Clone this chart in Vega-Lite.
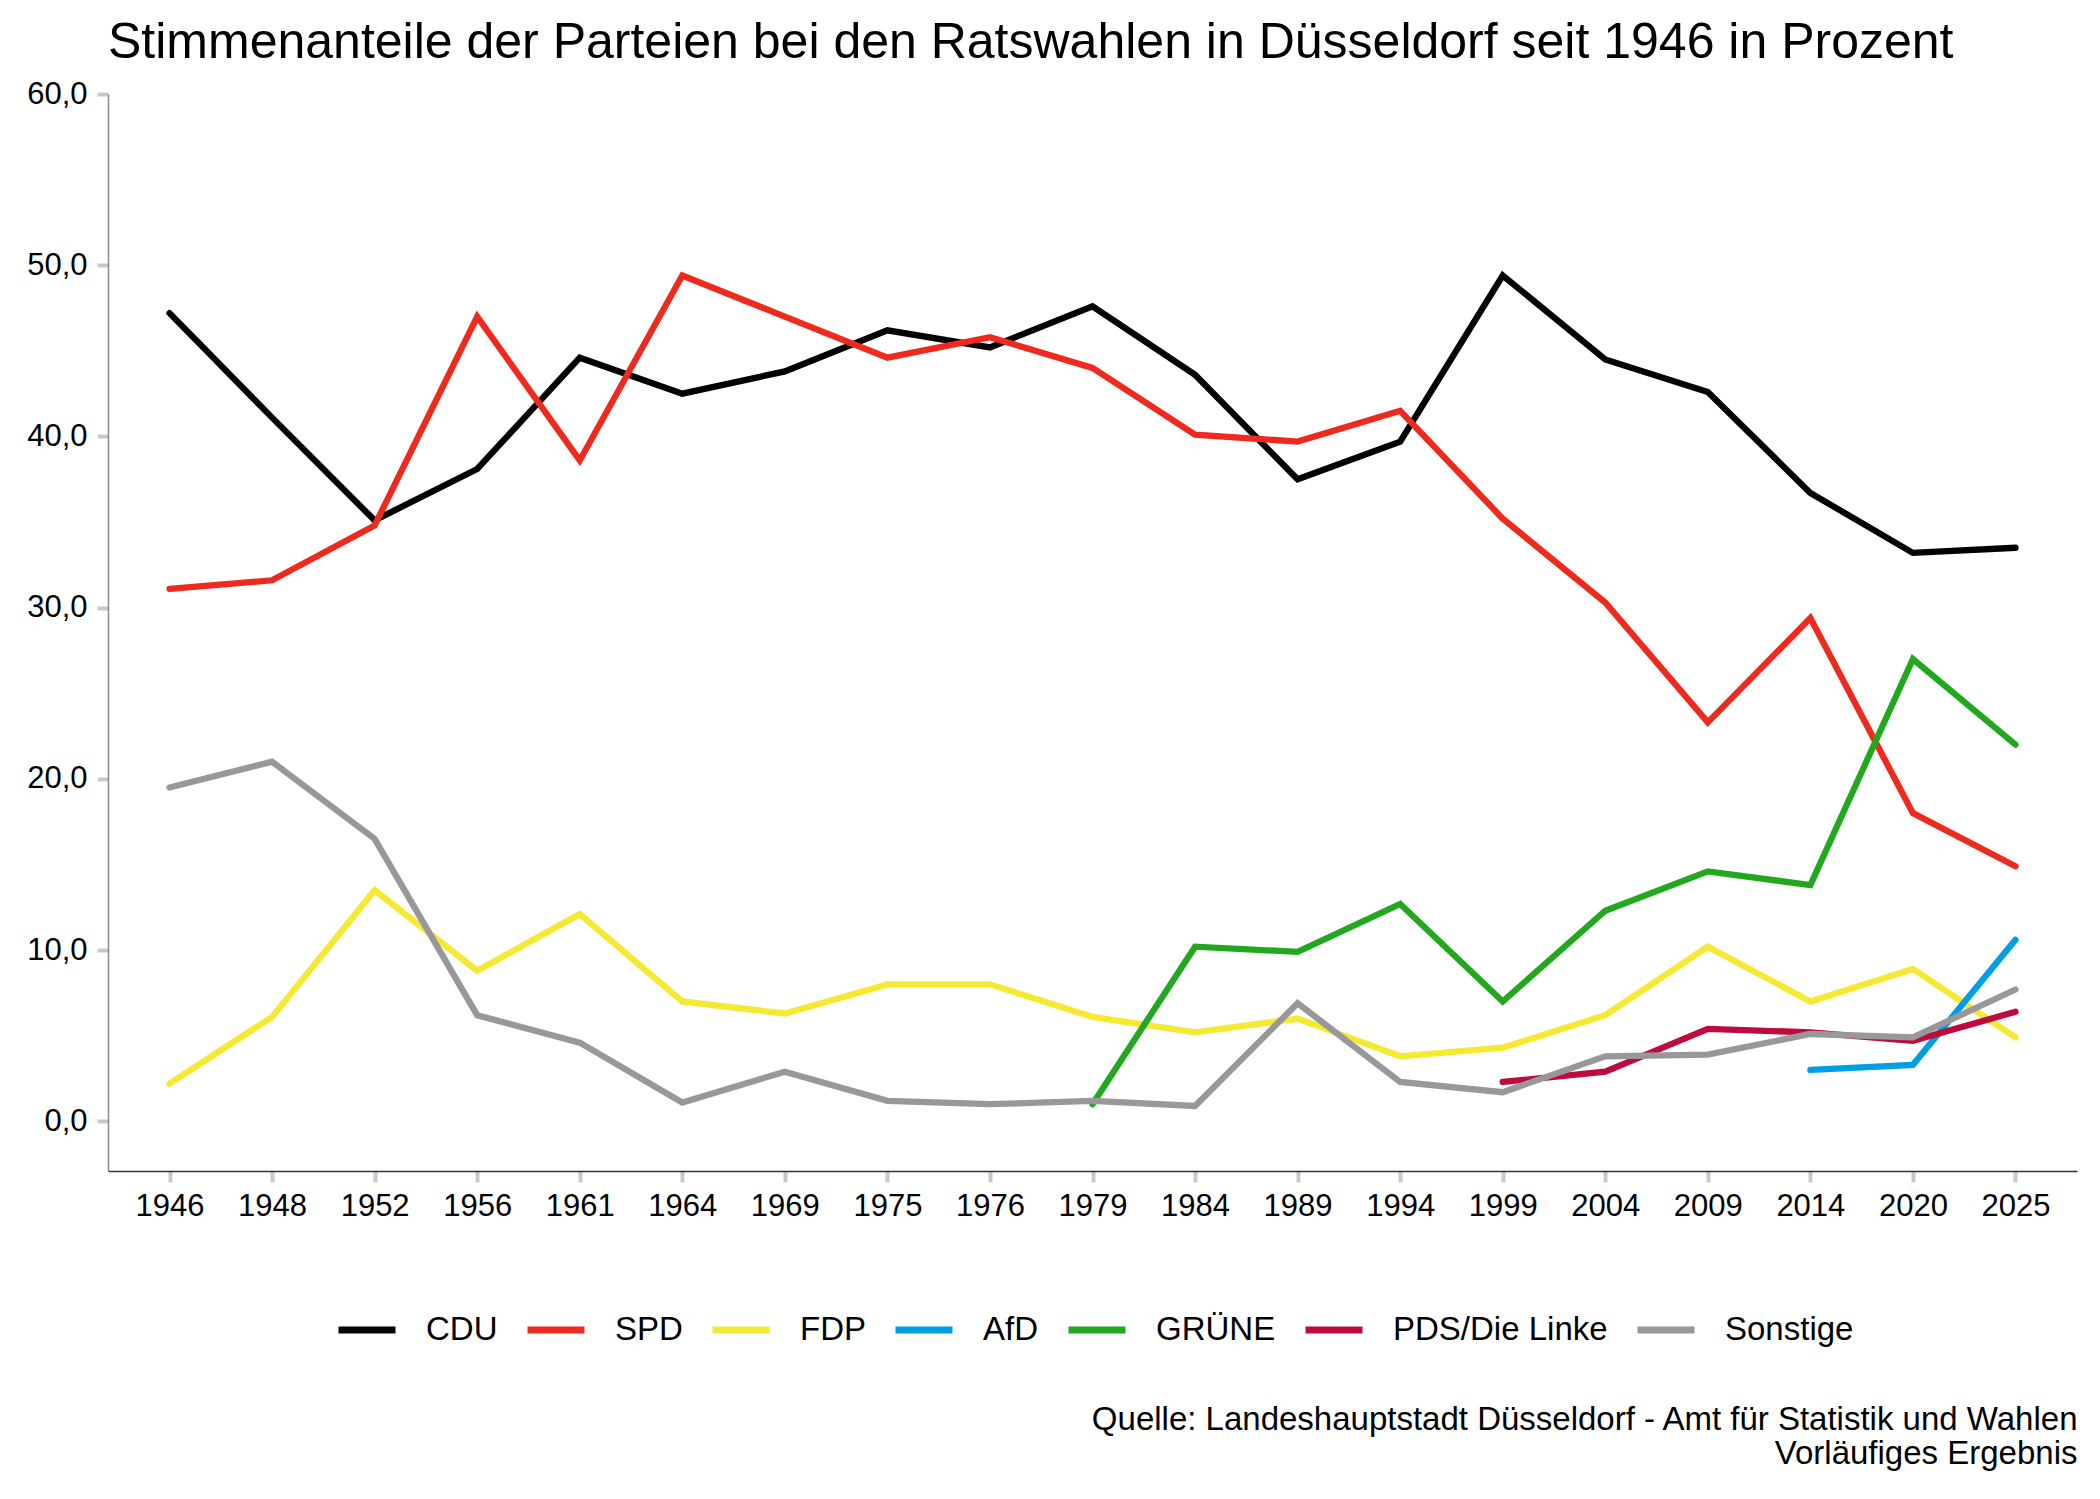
{
  "$schema": "https://vega.github.io/schema/vega-lite/v6.json",
  "autosize": {"type": "none"},
  "padding": {"left": 108, "top": 94, "right": 23, "bottom": 328},
  "width": 1969,
  "height": 1077,
  "background": "white",
  "title": {
    "text": "Stimmenanteile der Parteien bei den Ratswahlen in Düsseldorf seit 1946 in Prozent",
    "anchor": "start",
    "frame": "group",
    "font": "Liberation Sans",
    "fontSize": 50,
    "fontWeight": "normal",
    "color": "black",
    "offset": 10
  },
  "data": {
    "values": [
      {"Jahr": "1946", "Partei": "CDU", "Wert": 47.2},
      {"Jahr": "1948", "Partei": "CDU", "Wert": 41.1},
      {"Jahr": "1952", "Partei": "CDU", "Wert": 35.1},
      {"Jahr": "1956", "Partei": "CDU", "Wert": 38.1},
      {"Jahr": "1961", "Partei": "CDU", "Wert": 44.6},
      {"Jahr": "1964", "Partei": "CDU", "Wert": 42.5},
      {"Jahr": "1969", "Partei": "CDU", "Wert": 43.8},
      {"Jahr": "1975", "Partei": "CDU", "Wert": 46.2},
      {"Jahr": "1976", "Partei": "CDU", "Wert": 45.2},
      {"Jahr": "1979", "Partei": "CDU", "Wert": 47.6},
      {"Jahr": "1984", "Partei": "CDU", "Wert": 43.6},
      {"Jahr": "1989", "Partei": "CDU", "Wert": 37.5},
      {"Jahr": "1994", "Partei": "CDU", "Wert": 39.7},
      {"Jahr": "1999", "Partei": "CDU", "Wert": 49.4},
      {"Jahr": "2004", "Partei": "CDU", "Wert": 44.5},
      {"Jahr": "2009", "Partei": "CDU", "Wert": 42.6},
      {"Jahr": "2014", "Partei": "CDU", "Wert": 36.7},
      {"Jahr": "2020", "Partei": "CDU", "Wert": 33.2},
      {"Jahr": "2025", "Partei": "CDU", "Wert": 33.5},
      {"Jahr": "1946", "Partei": "SPD", "Wert": 31.1},
      {"Jahr": "1948", "Partei": "SPD", "Wert": 31.6},
      {"Jahr": "1952", "Partei": "SPD", "Wert": 34.8},
      {"Jahr": "1956", "Partei": "SPD", "Wert": 47.0},
      {"Jahr": "1961", "Partei": "SPD", "Wert": 38.6},
      {"Jahr": "1964", "Partei": "SPD", "Wert": 49.4},
      {"Jahr": "1969", "Partei": "SPD", "Wert": 47.0},
      {"Jahr": "1975", "Partei": "SPD", "Wert": 44.6},
      {"Jahr": "1976", "Partei": "SPD", "Wert": 45.8},
      {"Jahr": "1979", "Partei": "SPD", "Wert": 44.0},
      {"Jahr": "1984", "Partei": "SPD", "Wert": 40.1},
      {"Jahr": "1989", "Partei": "SPD", "Wert": 39.7},
      {"Jahr": "1994", "Partei": "SPD", "Wert": 41.5},
      {"Jahr": "1999", "Partei": "SPD", "Wert": 35.2},
      {"Jahr": "2004", "Partei": "SPD", "Wert": 30.3},
      {"Jahr": "2009", "Partei": "SPD", "Wert": 23.3},
      {"Jahr": "2014", "Partei": "SPD", "Wert": 29.4},
      {"Jahr": "2020", "Partei": "SPD", "Wert": 18.0},
      {"Jahr": "2025", "Partei": "SPD", "Wert": 14.9},
      {"Jahr": "1946", "Partei": "FDP", "Wert": 2.2},
      {"Jahr": "1948", "Partei": "FDP", "Wert": 6.1},
      {"Jahr": "1952", "Partei": "FDP", "Wert": 13.5},
      {"Jahr": "1956", "Partei": "FDP", "Wert": 8.8},
      {"Jahr": "1961", "Partei": "FDP", "Wert": 12.1},
      {"Jahr": "1964", "Partei": "FDP", "Wert": 7.0},
      {"Jahr": "1969", "Partei": "FDP", "Wert": 6.3},
      {"Jahr": "1975", "Partei": "FDP", "Wert": 8.0},
      {"Jahr": "1976", "Partei": "FDP", "Wert": 8.0},
      {"Jahr": "1979", "Partei": "FDP", "Wert": 6.1},
      {"Jahr": "1984", "Partei": "FDP", "Wert": 5.2},
      {"Jahr": "1989", "Partei": "FDP", "Wert": 6.0},
      {"Jahr": "1994", "Partei": "FDP", "Wert": 3.8},
      {"Jahr": "1999", "Partei": "FDP", "Wert": 4.3},
      {"Jahr": "2004", "Partei": "FDP", "Wert": 6.2},
      {"Jahr": "2009", "Partei": "FDP", "Wert": 10.2},
      {"Jahr": "2014", "Partei": "FDP", "Wert": 7.0},
      {"Jahr": "2020", "Partei": "FDP", "Wert": 8.9},
      {"Jahr": "2025", "Partei": "FDP", "Wert": 4.9},
      {"Jahr": "2014", "Partei": "AfD", "Wert": 3.0},
      {"Jahr": "2020", "Partei": "AfD", "Wert": 3.3},
      {"Jahr": "2025", "Partei": "AfD", "Wert": 10.6},
      {"Jahr": "1979", "Partei": "GRÜNE", "Wert": 1.0},
      {"Jahr": "1984", "Partei": "GRÜNE", "Wert": 10.2},
      {"Jahr": "1989", "Partei": "GRÜNE", "Wert": 9.9},
      {"Jahr": "1994", "Partei": "GRÜNE", "Wert": 12.7},
      {"Jahr": "1999", "Partei": "GRÜNE", "Wert": 7.0},
      {"Jahr": "2004", "Partei": "GRÜNE", "Wert": 12.3},
      {"Jahr": "2009", "Partei": "GRÜNE", "Wert": 14.6},
      {"Jahr": "2014", "Partei": "GRÜNE", "Wert": 13.8},
      {"Jahr": "2020", "Partei": "GRÜNE", "Wert": 27.0},
      {"Jahr": "2025", "Partei": "GRÜNE", "Wert": 22.0},
      {"Jahr": "1999", "Partei": "PDS/Die Linke", "Wert": 2.3},
      {"Jahr": "2004", "Partei": "PDS/Die Linke", "Wert": 2.9},
      {"Jahr": "2009", "Partei": "PDS/Die Linke", "Wert": 5.4},
      {"Jahr": "2014", "Partei": "PDS/Die Linke", "Wert": 5.2},
      {"Jahr": "2020", "Partei": "PDS/Die Linke", "Wert": 4.7},
      {"Jahr": "2025", "Partei": "PDS/Die Linke", "Wert": 6.4},
      {"Jahr": "1946", "Partei": "Sonstige", "Wert": 19.5},
      {"Jahr": "1948", "Partei": "Sonstige", "Wert": 21.0},
      {"Jahr": "1952", "Partei": "Sonstige", "Wert": 16.5},
      {"Jahr": "1956", "Partei": "Sonstige", "Wert": 6.2},
      {"Jahr": "1961", "Partei": "Sonstige", "Wert": 4.6},
      {"Jahr": "1964", "Partei": "Sonstige", "Wert": 1.1},
      {"Jahr": "1969", "Partei": "Sonstige", "Wert": 2.9},
      {"Jahr": "1975", "Partei": "Sonstige", "Wert": 1.2},
      {"Jahr": "1976", "Partei": "Sonstige", "Wert": 1.0},
      {"Jahr": "1979", "Partei": "Sonstige", "Wert": 1.2},
      {"Jahr": "1984", "Partei": "Sonstige", "Wert": 0.9},
      {"Jahr": "1989", "Partei": "Sonstige", "Wert": 6.9},
      {"Jahr": "1994", "Partei": "Sonstige", "Wert": 2.3},
      {"Jahr": "1999", "Partei": "Sonstige", "Wert": 1.7},
      {"Jahr": "2004", "Partei": "Sonstige", "Wert": 3.8},
      {"Jahr": "2009", "Partei": "Sonstige", "Wert": 3.9},
      {"Jahr": "2014", "Partei": "Sonstige", "Wert": 5.1},
      {"Jahr": "2020", "Partei": "Sonstige", "Wert": 4.9},
      {"Jahr": "2025", "Partei": "Sonstige", "Wert": 7.7}
    ]
  },
  "mark": {"type": "line", "strokeWidth": 6.3, "strokeCap": "round", "strokeJoin": "miter"},
  "encoding": {
    "x": {
      "field": "Jahr",
      "type": "ordinal",
      "scale": {"type": "point", "padding": 0.6},
      "axis": {
        "title": ["Quelle: Landeshauptstadt Düsseldorf - Amt für Statistik und Wahlen", "Vorläufiges Ergebnis"],
        "titleAnchor": "end",
        "titleAlign": "right",
        "titleFont": "Liberation Sans",
        "titleFontSize": 33,
        "titleFontWeight": "normal",
        "titleColor": "black",
        "titleLineHeight": 34,
        "titlePadding": 182,
        "labelAngle": 0,
        "labelFont": "Liberation Sans",
        "labelFontSize": 31,
        "labelColor": "black",
        "labelPadding": 9,
        "tickColor": "#c8c8c8",
        "tickWidth": 4,
        "tickSize": 11,
        "domainColor": "#333333",
        "domainWidth": 1.5,
        "grid": false
      }
    },
    "y": {
      "field": "Wert",
      "type": "quantitative",
      "scale": {"domain": [-2.9, 60], "nice": false, "zero": false},
      "axis": {
        "title": null,
        "values": [0, 10, 20, 30, 40, 50, 60],
        "labelExpr": "replace(format(datum.value, '.1f'), '.', ',')",
        "labelFont": "Liberation Sans",
        "labelFontSize": 31,
        "labelColor": "black",
        "labelPadding": 10,
        "tickColor": "#c8c8c8",
        "tickWidth": 4,
        "tickSize": 11,
        "domainColor": "#8a8a8a",
        "domainWidth": 1.5,
        "grid": false
      }
    },
    "color": {
      "field": "Partei",
      "type": "nominal",
      "scale": {
        "domain": ["CDU", "SPD", "FDP", "AfD", "GRÜNE", "PDS/Die Linke", "Sonstige"],
        "range": ["#000000", "#ee2a1e", "#f5e934", "#009fe3", "#22a81e", "#be0a3c", "#98989b"]
      },
      "legend": {
        "title": null,
        "orient": "none",
        "direction": "horizontal",
        "legendX": 227,
        "legendY": 1204,
        "symbolType": "stroke",
        "symbolSize": 3249,
        "symbolStrokeWidth": 7,
        "labelFont": "Liberation Sans",
        "labelFontSize": 33,
        "labelColor": "black",
        "labelLimit": 0,
        "labelOffset": 27,
        "columnPadding": 15
      }
    }
  },
  "config": {"view": {"stroke": null}}
}
